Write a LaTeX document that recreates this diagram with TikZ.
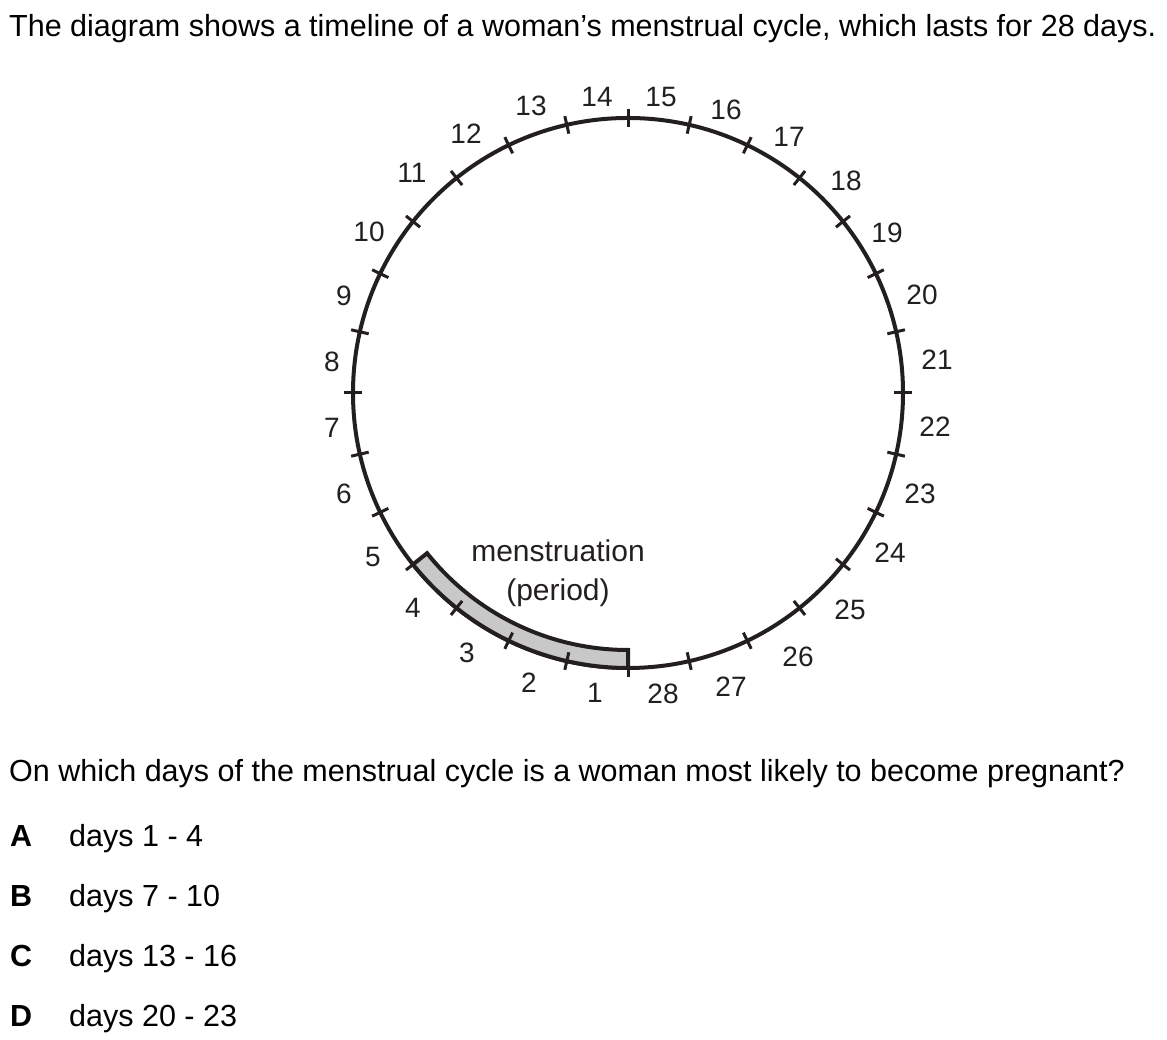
\documentclass[tikz,border=0pt]{standalone}
\usepackage{fontspec}
\setmainfont{Liberation Sans}
\definecolor{ink}{HTML}{231F20}
\definecolor{bandgray}{RGB}{200,200,200}
\begin{document}
\begin{tikzpicture}[
  x=1pt, y=1pt,
  txt/.style={font=\fontsize{30.5}{36}\selectfont, inner sep=0pt, anchor=base west},
  day/.style={font=\fontsize{28}{34}\selectfont, inner sep=0pt, text=ink},
  mlbl/.style={font=\fontsize{30}{36}\selectfont, inner sep=0pt, anchor=base, text=ink},
  rim/.style={draw=ink, line width=4pt},
  tickmark/.style={draw=ink, line width=3pt}
]
\useasboundingbox (0,0) rectangle (1167,1040);
\coordinate (c) at (628,647);

\node[txt] (head) at (9,1003)
  {The diagram shows a timeline of a woman's menstrual cycle, which lasts for 28 days.};

\draw[rim] (c) circle (275pt);
\filldraw[rim, fill=bandgray] ([shift={(270:275pt)}]c) arc (270:218.571:275pt)
  -- ([shift={(218.571:257pt)}]c) arc (218.571:270:257pt) -- cycle;
\foreach \k [evaluate=\k as \a using 270-\k*360/28] in {0,...,27}
  \draw[tickmark] ([shift={(\a:266pt)}]c) -- ([shift={(\a:284pt)}]c);

\foreach \d/\px/\py in {1/595/347, 2/529/357, 3/467/387, 4/413/432, 5/373/483,
    6/344/546, 7/332/612, 8/332/678, 9/344/744, 10/369/808, 11/412/867,
    12/466/906, 13/531/934, 14/597/943, 15/661/943, 16/726/930, 17/789/903,
    18/846/859, 19/887/807, 20/922/745, 21/937/680, 22/935/613, 23/920/546,
    24/890/487, 25/850/430, 26/798/383, 27/731/353, 28/663/346}
  \node[day] (d\d) at (\px,\py) {\d};

\node[mlbl] (mens) at (558,478) {menstruation};
\node[mlbl] (per) at (558,439) {(period)};

\node[txt] (quest) at (9,258)
  {On which days of the menstrual cycle is a woman most likely to become pregnant?};

\foreach \l/\t/\yy in {A/{days 1 - 4}/193, B/{days 7 - 10}/133,
    C/{days 13 - 16}/73, D/{days 20 - 23}/13} {
  \node[txt, font=\fontsize{30.5}{36}\selectfont\bfseries] (opt\l) at (10,\yy) {\l};
  \node[txt] (ans\l) at (69,\yy) {\t};
}
\end{tikzpicture}
\end{document}
